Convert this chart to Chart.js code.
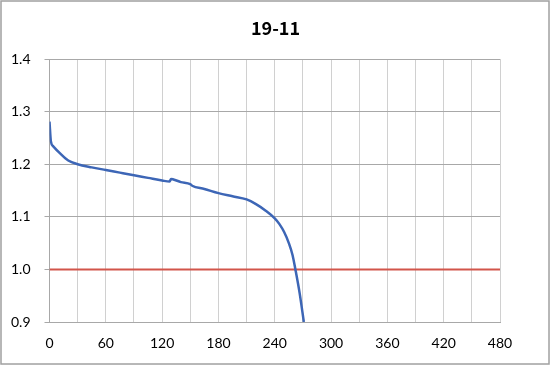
<!DOCTYPE html>
<html>
<head>
<meta charset="utf-8">
<script src="https://cdn.jsdelivr.net/npm/chart.js@4"></script>
<style>
  html, body { margin: 0; padding: 0; background: #fff; }
  canvas { display: block; }
</style>
</head>
<body>
<canvas id="chart" width="551" height="366"></canvas>
<script>
const chartTitle = "19-11";
const minutes = [0, 1.5, 4, 11, 20, 30, 45, 60, 75, 90, 105, 120, 128, 129.5, 132, 140, 150, 152, 165, 180, 195, 210, 220, 230, 240, 245, 250, 255, 259, 262, 266.6, 271];
const voltage = [1.281, 1.243, 1.234, 1.221, 1.207, 1.200, 1.194, 1.189, 1.184, 1.179, 1.174, 1.169, 1.167, 1.172, 1.171, 1.166, 1.162, 1.159, 1.153, 1.145, 1.139, 1.133, 1.124, 1.112, 1.097, 1.086, 1.071, 1.050, 1.027, 1.000, 0.954, 0.900];
const cutoffX = [0, 480];
const cutoffY = [1.0, 1.0];
const xTicks = [0, 60, 120, 180, 240, 300, 360, 420, 480];

const frame = {
  id: "frame",
  afterDraw(chart) {
    const ctx = chart.ctx;
    ctx.save();
    ctx.strokeStyle = "#a0a0a0";
    ctx.lineWidth = 1.5;
    ctx.strokeRect(1, 1, chart.width - 3, chart.height - 3);
    ctx.restore();
  }
};

new Chart(document.getElementById("chart"), {
  type: "line",
  data: {
    datasets: [{
      label: "V",
      data: minutes.map((t, i) => ({ x: t, y: voltage[i] })),
      borderColor: "#3d66b6",
      borderWidth: 2.5,
      pointRadius: 0,
      cubicInterpolationMode: "monotone",
      fill: false
    }, {
      label: "cutoff",
      data: cutoffX.map((t, i) => ({ x: t, y: cutoffY[i] })),
      borderColor: "#d2554a",
      borderWidth: 2,
      pointRadius: 0,
      fill: false
    }]
  },
  options: {
    responsive: false,
    animation: false,
    layout: { padding: 0 },
    plugins: {
      legend: { display: false },
      tooltip: { enabled: false },
      title: {
        display: true,
        text: chartTitle,
        color: "#000",
        font: { family: "Noto Sans CJK KR", size: 18, weight: "bold" },
        padding: { top: 17, bottom: 20.4 }
      }
    },
    scales: {
      x: {
        type: "linear",
        min: 0,
        max: 480,
        afterFit: (s) => { s.height = 44; },
        ticks: {
          stepSize: 30,
          autoSkip: false,
          color: "#000",
          padding: 13,
          maxRotation: 0,
          font: { family: "Lato", size: 14 },
          callback: (v) => (xTicks.includes(v) ? String(v) : "")
        },
        grid: { color: "#d0d0d0", tickLength: 0, lineWidth: 1 },
        border: { color: "#a8a8a8" }
      },
      y: {
        min: 0.9,
        max: 1.4,
        afterFit: (s) => { s.width = 49.5; },
        ticks: {
          stepSize: 0.1,
          autoSkip: false,
          color: "#000",
          padding: 14,
          font: { family: "Lato", size: 14 },
          callback: (v) => v.toFixed(1)
        },
        grid: { color: "#a8a8a8", tickLength: 5, lineWidth: 1 },
        border: { color: "#a8a8a8" }
      },
      yRight: {
        position: "right",
        min: 0.9,
        max: 1.4,
        afterFit: (s) => { s.width = 51; },
        ticks: { display: false },
        grid: { display: false },
        border: { display: false }
      }
    }
  },
  plugins: [frame]
});
</script>
</body>
</html>
